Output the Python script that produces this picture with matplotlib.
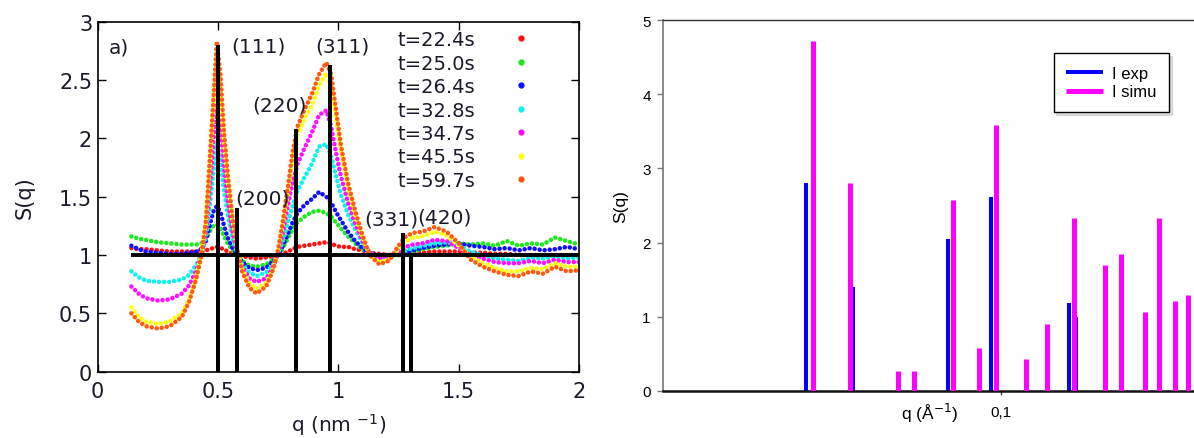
import numpy as np
import matplotlib
matplotlib.use("Agg")
import matplotlib.pyplot as plt
from matplotlib.lines import Line2D
from matplotlib.ticker import FixedLocator, NullLocator, FixedFormatter

# ---- left panel : S(q) measured at several times ----
q_nm = [0.14, 0.17, 0.2, 0.25, 0.3, 0.35, 0.38, 0.41, 0.43, 0.45, 0.465, 0.48, 0.495,
        0.51, 0.525, 0.54, 0.56, 0.58, 0.6, 0.63, 0.66, 0.7, 0.73, 0.75, 0.77, 0.79,
        0.81, 0.83, 0.86, 0.89, 0.92, 0.95, 0.97, 0.99, 1.01, 1.04, 1.07, 1.1, 1.13,
        1.17, 1.21, 1.25, 1.28, 1.31, 1.35, 1.4, 1.45, 1.5, 1.55, 1.6, 1.65, 1.7,
        1.75, 1.8, 1.85, 1.9, 1.95, 2.0]

s_224 = [1.06, 1.05, 1.05, 1.04, 1.03, 1.03, 1.03, 1.03, 1.03, 1.04, 1.05, 1.06, 1.07,
         1.06, 1.05, 1.03, 1.01, 1.0, 0.99, 0.98, 0.97, 0.98, 0.99, 1.0, 1.01, 1.03,
         1.05, 1.07, 1.08, 1.09, 1.1, 1.11, 1.1, 1.08, 1.07, 1.07, 1.05, 1.04, 1.02,
         1.01, 1.0, 1.0, 1.01, 1.02, 1.02, 1.03, 1.03, 1.03, 1.02, 1.02, 1.01, 1.01,
         1.0, 1.0, 1.0, 1.0, 1.0, 1.0]
s_250 = [1.16, 1.14, 1.13, 1.11, 1.10, 1.09, 1.09, 1.09, 1.1, 1.14, 1.2, 1.25, 1.26,
         1.23, 1.16, 1.1, 1.04, 1.0, 0.95, 0.91, 0.9, 0.92, 0.96, 1.0, 1.06, 1.14,
         1.22, 1.28, 1.33, 1.37, 1.38, 1.36, 1.33, 1.28, 1.23, 1.16, 1.1, 1.05, 1.02,
         0.99, 0.99, 1.0, 1.02, 1.03, 1.05, 1.07, 1.08, 1.1, 1.09, 1.1, 1.08, 1.12,
         1.08, 1.1, 1.09, 1.15, 1.12, 1.09]
s_264 = [1.08, 1.05, 1.03, 1.02, 1.01, 1.01, 1.02, 1.03, 1.05, 1.12, 1.25, 1.37, 1.42,
         1.37, 1.25, 1.15, 1.06, 1.0, 0.94, 0.89, 0.87, 0.89, 0.95, 1.0, 1.08, 1.18,
         1.28, 1.36, 1.43, 1.48, 1.54, 1.5, 1.45, 1.37, 1.3, 1.2, 1.12, 1.06, 1.02,
         0.99, 0.99, 1.01, 1.02, 1.04, 1.06, 1.08, 1.09, 1.1, 1.08, 1.07, 1.05, 1.06,
         1.04, 1.06, 1.04, 1.05, 1.07, 1.05]
s_328 = [0.86, 0.81, 0.78, 0.77, 0.77, 0.79, 0.83, 0.92, 1.0, 1.15, 1.4, 1.7, 1.95,
         1.82, 1.55, 1.35, 1.14, 1.01, 0.92, 0.85, 0.82, 0.85, 0.92, 1.01, 1.13, 1.28,
         1.42, 1.55, 1.67, 1.78, 1.93, 1.95, 1.85, 1.68, 1.52, 1.35, 1.22, 1.1, 1.02,
         0.98, 0.98, 1.01, 1.04, 1.06, 1.08, 1.1, 1.11, 1.08, 1.03, 1.0, 0.97, 0.96,
         0.95, 0.98, 0.97, 0.99, 0.97, 0.98]
s_347 = [0.73, 0.67, 0.63, 0.61, 0.62, 0.67, 0.74, 0.87, 1.0, 1.2, 1.55, 1.95, 2.30,
         2.1, 1.75, 1.48, 1.2, 1.02, 0.9, 0.8, 0.77, 0.8, 0.9, 1.02, 1.2, 1.42,
         1.62, 1.78, 1.92, 2.05, 2.2, 2.24, 2.1, 1.88, 1.68, 1.45, 1.27, 1.12, 1.02,
         0.97, 0.98, 1.03, 1.07, 1.09, 1.10, 1.13, 1.12, 1.06, 1.0, 0.97, 0.94, 0.93,
         0.93, 0.95, 0.93, 0.96, 0.94, 0.94]
s_455 = [0.55, 0.47, 0.43, 0.41, 0.43, 0.50, 0.62, 0.82, 1.0, 1.28, 1.75, 2.25, 2.72,
         2.45, 1.98, 1.65, 1.30, 1.04, 0.88, 0.76, 0.71, 0.76, 0.89, 1.04, 1.27, 1.53,
         1.82, 2.03, 2.17, 2.28, 2.45, 2.56, 2.45, 2.18, 1.9, 1.58, 1.34, 1.15, 1.0,
         0.94, 0.96, 1.05, 1.12, 1.15, 1.16, 1.20, 1.17, 1.08, 0.99, 0.93, 0.89, 0.86,
         0.86, 0.89, 0.88, 0.93, 0.90, 0.90]
s_597 = [0.50, 0.43, 0.39, 0.37, 0.39, 0.47, 0.60, 0.80, 0.99, 1.30, 1.80, 2.30, 2.83,
         2.55, 2.05, 1.70, 1.32, 1.05, 0.86, 0.72, 0.67, 0.73, 0.88, 1.05, 1.30, 1.58,
         1.88, 2.10, 2.25, 2.38, 2.55, 2.65, 2.55, 2.25, 1.95, 1.62, 1.38, 1.17, 1.00,
         0.92, 0.95, 1.08, 1.16, 1.19, 1.20, 1.24, 1.20, 1.10, 0.96, 0.90, 0.86, 0.83,
         0.82, 0.86, 0.84, 0.90, 0.86, 0.87]

time_labels = ["t=22.4s", "t=25.0s", "t=26.4s", "t=32.8s", "t=34.7s", "t=45.5s", "t=59.7s"]
time_colors = ["#ff1010", "#1ee81e", "#1010ff", "#10f0f0", "#ff10ff", "#ffff10", "#ff5a10"]

# reflections of the fcc lattice
peak_q = [0.50, 0.578, 0.825, 0.965, 1.268, 1.302]
peak_s = [2.80, 1.40, 2.08, 2.63, 1.19, 0.99]
peak_names = ["(111)", "(200)", "(220)", "(311)", "(331)", "(420)"]

# ---- right panel : experimental vs simulated peak intensities ----
exp_q = [0.0491, 0.0582, 0.0824, 0.0965, 0.1280, 0.1314]
exp_s = [2.80, 1.40, 2.05, 2.62, 1.19, 0.99]
simu_q = [0.0503, 0.0577, 0.0686, 0.0729, 0.0838, 0.0924, 0.0980, 0.1097,
          0.1184, 0.1306, 0.1462, 0.1550, 0.1692, 0.1780, 0.1887, 0.1979]
simu_s = [4.72, 2.80, 0.27, 0.27, 2.57, 0.57, 3.59, 0.43,
          0.90, 2.33, 1.70, 1.85, 1.06, 2.33, 1.21, 1.29]


W, H = 1194, 439
fig = plt.figure(figsize=(W / 100, H / 100), dpi=100)

# ---------------- left ----------------
txt = "#1a1a2a"
ax = fig.add_axes([97.7 / W, 1 - 372.7 / H, 481.3 / W, 350 / H])
series = [s_224, s_250, s_264, s_328, s_347, s_455, s_597]
for s, c in zip(series, time_colors):
    ax.plot(q_nm, s, color=c, lw=3.3, linestyle=(0, (0.01, 1.1)),
            dash_capstyle="round", solid_capstyle="round", zorder=2)

ax.bar(peak_q, peak_s, width=0.018, color="black", zorder=3)
ax.hlines(1.0, q_nm[0], 2.0, color="black", lw=2.8, zorder=3)

label_pos = [(0.554, 2.79), (0.572, 1.485), (0.642, 2.29), (0.905, 2.79),
             (1.107, 1.31), (1.326, 1.33)]
for name, (x, y) in zip(peak_names, label_pos):
    ax.text(x, y, name, fontsize=14.5, color=txt, ha="left", va="center", zorder=4)
ax.text(0.044, 2.78, "a)", fontsize=14.5, color=txt, ha="left", va="center")

ax.set_xlim(0, 2)
ax.set_ylim(0, 3)
ax.set_xticks([0, 0.5, 1, 1.5, 2])
ax.set_xticklabels(["0", "0.5", "1", "1.5", "2"])
ax.set_yticks([0, 0.5, 1, 1.5, 2, 2.5, 3])
ax.set_yticklabels(["0", "0.5", "1", "1.5", "2", "2.5", "3"])
ax.tick_params(direction="in", length=6, width=1, top=True, right=True,
               labelsize=15, labelcolor=txt)
ax.tick_params(axis="x", pad=7)
ax.tick_params(axis="y", pad=4)
for sp in ax.spines.values():
    sp.set_linewidth(1.2)
ax.set_xlabel("q (nm $^{-1}$)", fontsize=14.5, color=txt)
ax.set_ylabel("S(q)", fontsize=15, color=txt)
ax.xaxis.set_label_coords(0.5, -0.114)
ax.yaxis.set_label_coords(-0.132, 0.5)

handles = [Line2D([], [], ls="none", marker="o", ms=3.5, color=c, mec=c)
           for c in time_colors]
ax.legend(handles, time_labels, loc="upper left", bbox_to_anchor=(0.622, 0.976),
          frameon=False, markerfirst=False, fontsize=14, labelspacing=0.23,
          handlelength=1.0, handletextpad=1.87, borderpad=0, borderaxespad=0,
          labelcolor=txt)

# ---------------- right ----------------
plt.rcParams["font.family"] = ["Liberation Sans", "DejaVu Sans"]
ax2 = fig.add_axes([663.3 / W, 1 - 391.7 / H, 589.2 / W, 370.4 / H])
ax2.set_xscale("log")
ax2.vlines(exp_q, 0, exp_s, color="#0000ff", lw=2.9, capstyle="butt",
           label="I exp", zorder=2)
ax2.vlines(simu_q, 0, simu_s, color="#ff00ff", lw=3.6, capstyle="butt",
           label="I simu", zorder=3)
ax2.set_xlim(0.0292, 0.25)
ax2.set_ylim(0, 5)
ax2.xaxis.set_major_locator(FixedLocator([0.1]))
ax2.xaxis.set_major_formatter(FixedFormatter(["0,1"]))
ax2.xaxis.set_minor_locator(NullLocator())
ax2.set_yticks([0, 1, 2, 3, 4, 5])
ax2.tick_params(axis="y", direction="out", length=4, width=1, color="#777777",
                labelsize=11, pad=5)
ax2.tick_params(axis="x", direction="out", length=3, width=1, color="#444444",
                labelsize=11, pad=7)
ax2.spines["right"].set_visible(False)
ax2.spines["left"].set_color("#808080")
ax2.spines["left"].set_linewidth(1.3)
ax2.spines["top"].set_color("#333333")
ax2.spines["top"].set_linewidth(1.0)
ax2.spines["bottom"].set_color("#111111")
ax2.spines["bottom"].set_linewidth(1.8)
for lbl in ax2.get_xticklabels() + ax2.get_yticklabels():
    lbl.set_family(["Liberation Sans", "DejaVu Sans"])
ax2.set_xlabel("q (Å$^{-1}$)", fontsize=12.5, family=["Liberation Sans", "DejaVu Sans"])
ax2.set_ylabel("S(q)", fontsize=12.5, family=["Liberation Sans", "DejaVu Sans"])
ax2.xaxis.set_label_coords(0.4527, -0.028)
ax2.yaxis.set_label_coords(-0.06, 0.5)

leg = ax2.legend(loc="upper left", bbox_to_anchor=(1053.7 / W, 1 - 54.3 / H),
                 bbox_transform=fig.transFigure, frameon=True,
                 fancybox=False, edgecolor="black", borderpad=0.75, labelspacing=0.22,
                 handlelength=2.2, handletextpad=0.55, borderaxespad=0,
                 shadow={"color": "0.75"}, prop={"family": ["Liberation Sans"], "size": 12})
leg.get_frame().set_linewidth(1.0)

fig.savefig("out.png", dpi=100)
